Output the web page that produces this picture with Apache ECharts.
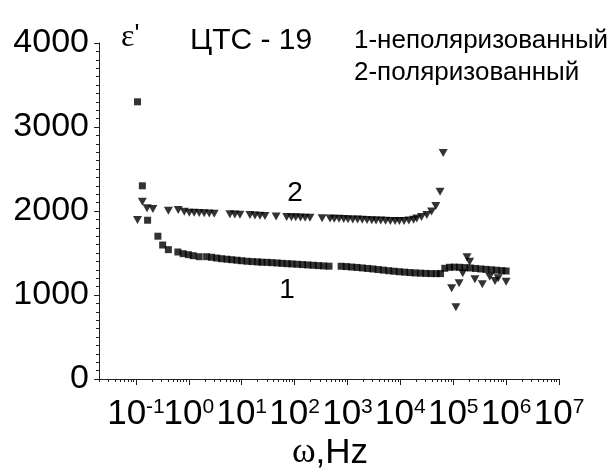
<!DOCTYPE html>
<html><head><meta charset="utf-8">
<script src="https://cdn.jsdelivr.net/npm/echarts@6/dist/echarts.min.js"></script>
<style>html,body{margin:0;padding:0;background:#fff}#c{width:612px;height:471px}</style>
</head><body><div id="c"></div>
<script>
// Series 1: unpolarized (squares)
const freq1 = [0.107,0.132,0.166,0.26,0.32,0.41,0.62,0.78,0.98,1.21,1.57,2.17,2.69,3.36,4.17,5.25,6.46,8.13,10,12.6,15.8,20,24,30.2,37.2,46.8,57.5,72.4,89,112,141,178,224,282,355,447,759,955,1202,1514,1905,2399,3020,3802,4786,6026,7586,9550,12020,15140,19050,23990,30200,38020,47860,57540,69180,85110,104700,131800,166000,208900,263000,331100,416900,524800,660700,831800,1000000];
const eps1  = [3300,2300,1890,1700,1595,1540,1512,1492,1480,1468,1456,1456,1449,1440,1432,1426,1420,1414,1408,1402,1398,1394,1390,1389,1385,1381,1377,1373,1370,1366,1362,1358,1354,1350,1346,1343,1342,1338,1333,1328,1322,1316,1310,1303,1296,1289,1283,1277,1272,1267,1263,1260,1257,1255,1254,1255,1318,1330,1332,1330,1326,1322,1316,1310,1305,1300,1295,1290,1286];
// Series 2: polarized (triangles)
const freq2 = [0.107,0.132,0.162,0.209,0.41,0.63,0.82,1.02,1.26,1.57,1.95,2.43,3.02,5.98,7.41,9.25,14.3,17.8,22.1,27.5,44.7,70.8,87.1,105,129,158,195,331,468,562,692,851,1023,1259,1549,1905,2344,2884,3467,4266,5248,6457,7943,9550,11750,14450,17780,20420,25120,31620,38900,46770,56230,64570,93300,112200,128800,151400,182000,204200,257000,354800,489800,616600,707900,1000000];
const eps2  = [1893,2111,2032,2024,2004,2012,1990,1980,1978,1975,1973,1971,1968,1962,1958,1955,1952,1946,1942,1940,1934,1930,1927,1925,1923,1921,1920,1915,1911,1909,1907,1905,1903,1900,1898,1895,1893,1890,1888,1886,1884,1882,1881,1881,1882,1886,1895,1910,1929,1952,1994,2060,2230,2690,1080,854,1139,1258,1449,1396,1187,1127,1218,1167,1199,1158];
const xMajor = [0.1,1,10,100,1e3,1e4,1e5,1e6,1e7];
const xMin = 0.02, xMax = 1e7;
const yMin = 0, yMax = 4000, yStep = 1000;
const title = 'ЦТС - 19';
const legend1 = '1-неполяризованный';
const legend2 = '2-поляризованный';

const SANS = '"Liberation Sans", Arial, sans-serif';
const SERIF = '"Liberation Serif", "Times New Roman", serif';
const xMinor = [];
for (let d = -2; d <= 6; d++) for (let m = 2; m <= 9; m++) {
  const v = m * Math.pow(10, d);
  if (v >= xMin && v <= xMax) xMinor.push(v);
}
const zip = (a, b) => a.map((v, i) => [v, b[i]]);
const chart = echarts.init(document.getElementById('c'), null, {renderer: 'canvas'});
const axisCol = '#222';
chart.setOption({
  animation: false,
  backgroundColor: '#fff',
  grid: {left: 99, right: 53, top: 43, bottom: 92, containLabel: false},
  xAxis: [{
    type: 'log', min: xMin, max: xMax, logBase: 10,
    axisLine: {show: true, lineStyle: {color: axisCol, width: 1}},
    axisTick: {show: true, inside: false, length: 6, customValues: xMajor, lineStyle: {color: axisCol}},
    minorTick: {show: false},
    splitLine: {show: false},
    axisLabel: {
      customValues: [xMin].concat(xMajor), margin: 18, color: '#000',
      showMinLabel: true, showMaxLabel: true, hideOverlap: false,
      formatter: v => v < xMajor[0] * 0.9 ? '' : '{b|10}{s|' + Math.round(Math.log10(v)) + '}',
      rich: {
        b: {fontSize: 35, fontFamily: SANS, color: '#000'},
        s: {fontSize: 21, fontFamily: SANS, color: '#000', verticalAlign: 'top'}
      }
    }
  }, {
    type: 'log', min: xMin, max: xMax, logBase: 10, position: 'bottom',
    axisLine: {show: false},
    axisTick: {show: true, inside: false, length: 3, customValues: xMinor, lineStyle: {color: axisCol}},
    axisLabel: {show: false},
    splitLine: {show: false}
  }],
  yAxis: {
    type: 'value', min: yMin, max: yMax, interval: yStep,
    axisLine: {show: true, lineStyle: {color: axisCol, width: 1}},
    axisTick: {show: true, inside: false, length: 5, lineStyle: {color: axisCol}},
    minorTick: {show: true, splitNumber: 10, length: 3, lineStyle: {color: axisCol}},
    splitLine: {show: false},
    axisLabel: {fontSize: 34, fontFamily: SANS, color: '#000', margin: 10, formatter: v => String(v)}
  },
  series: [{
    type: 'scatter', name: legend1, data: zip(freq1, eps1),
    symbol: 'rect', symbolSize: 7, itemStyle: {color: '#000'}
  }, {
    type: 'scatter', name: legend2, data: zip(freq2, eps2),
    symbol: 'triangle', symbolRotate: 180, symbolSize: [9, 8], itemStyle: {color: '#000'}
  }],
  graphic: [
    {type: 'text', left: 121, top: 22, style: {text: '{e|ε}{p|\'}', rich: {e: {fontSize: 32, fontFamily: SERIF, fill: '#000'}, p: {fontSize: 26, fontFamily: SANS, fill: '#000', verticalAlign: 'top'}}}},
    {type: 'text', x: 190, y: 41, style: {text: title, fontSize: 30, fontFamily: SANS, fill: '#000', verticalAlign: 'middle'}},
    {type: 'text', x: 354, y: 41, style: {text: legend1, fontSize: 26, fontFamily: SANS, fill: '#000', verticalAlign: 'middle'}},
    {type: 'text', x: 354, y: 73, style: {text: legend2, fontSize: 26, fontFamily: SANS, fill: '#000', verticalAlign: 'middle'}},
    {type: 'text', x: 295, y: 193, style: {text: '2', fontSize: 28, fontFamily: SANS, fill: '#000', align: 'center', verticalAlign: 'middle'}},
    {type: 'text', x: 287, y: 290, style: {text: '1', fontSize: 28, fontFamily: SANS, fill: '#000', align: 'center', verticalAlign: 'middle'}},
    {type: 'text', x: 330, y: 453, style: {text: '{w|ω}{h|,Hz}', align: 'center', verticalAlign: 'middle', rich: {w: {fontSize: 36, fontFamily: SERIF, fill: '#000'}, h: {fontSize: 35, fontFamily: SANS, fill: '#000'}}}}
  ]
});
</script></body></html>
